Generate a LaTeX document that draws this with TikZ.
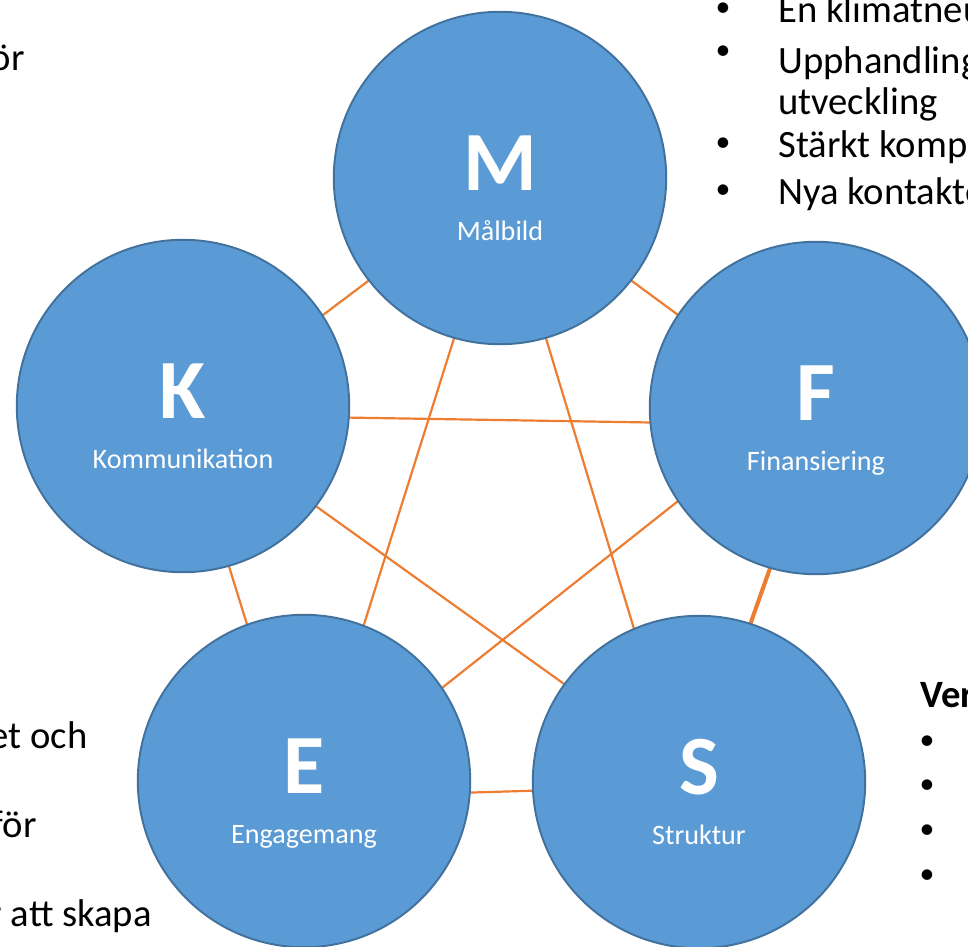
\documentclass[tikz,border=0pt]{standalone}
\usepackage{fontspec}
\setmainfont{Carlito}
\usetikzlibrary{calc,backgrounds}
\definecolor{kblue}{HTML}{5B9BD5}
\definecolor{kedge}{HTML}{41719C}
\definecolor{korange}{HTML}{ED7D31}
\tikzset{
  krets/.style={circle, fill=kblue, draw=kedge, line width=1.1pt, minimum size=6.65cm, inner sep=0pt, outer sep=0pt},
  bokstav/.style={text=white, font=\fontsize{48}{50}\selectfont\bfseries, anchor=base, inner sep=0pt},
  etikett/.style={text=white, font=\fontsize{16}{18}\selectfont, anchor=base, inner sep=0pt},
  band/.style={korange, line width=1.25pt},
  brod/.style={font=\fontsize{22}{26}\selectfont, inner sep=0pt},
  rubrik/.style={font=\fontsize{22}{26}\selectfont\bfseries, inner sep=0pt},
  punkt/.style={font=\fontsize{17}{20}\selectfont, inner sep=0pt},
}
\begin{document}
\begin{tikzpicture}[x=0.02cm, y=-0.02cm, line join=round, line cap=round]
	\useasboundingbox (0,0) rectangle (968,947);
	% the five circles
	\foreach \n/\x/\y/\t in {M/500/178/Målbild, K/183/406/Kommunikation,
		F/816/408/Finansiering, E/304/781/Engagemang, S/699/782/Struktur}{
		\node[krets] (\n) at (\x,\y) {};
		\node[bokstav] (\n-b) at ($(\n)+(0,12)$) {\n};
		\node[etikett] (\n-t) at ($(\n)+(0,62)$) {\t};
	}
	% connectors behind the circles
	\begin{scope}[on background layer]
	\draw[band] (M.218) -- (K.33);
	\draw[band] (M.-38) -- (F.146);
	\draw[band] (K.-4) -- (F.185);
	\draw[band] (K.-74) -- (E.110);
	\draw[band, line width=2.3pt] (F.-106) -- (S.72);
	\draw[band] (E.-4) -- (S.183);
	\draw[band] (M.-106) -- (E.69);
	\draw[band] (M.-74) -- (S.113);
	\draw[band] (K.-37) -- (S.144);
	\draw[band] (F.214) -- (E.34);
	\end{scope}
	% text cut by the edges
	\foreach \y/\t in {22/En klimatneu, 73/Upphandling, 114/utveckling,
		157/Stärkt kompe, 204/Nya kontakte}
	\node[brod, anchor=base west] (lista-\y) at (778,\y) {\t};
	\foreach \y in {10,53,145,192}
	\node[punkt] (punkt-\y) at (723,\y) {•};
	\node[brod, anchor=base east] (v1) at (25,70) {ör};
	\node[brod, anchor=base east] (v2) at (88,748) {et och};
	\node[brod, anchor=base east] (v3) at (37,837) {för};
	\node[brod, anchor=base east] (v4) at (152,926) {r att skapa};
	\node[rubrik, anchor=base west] (h0) at (920,707) {Ver};
	\foreach \y in {743,787,832,877}
	\node[punkt] (hp-\y) at (927,\y) {•};
\end{tikzpicture}
\end{document}
